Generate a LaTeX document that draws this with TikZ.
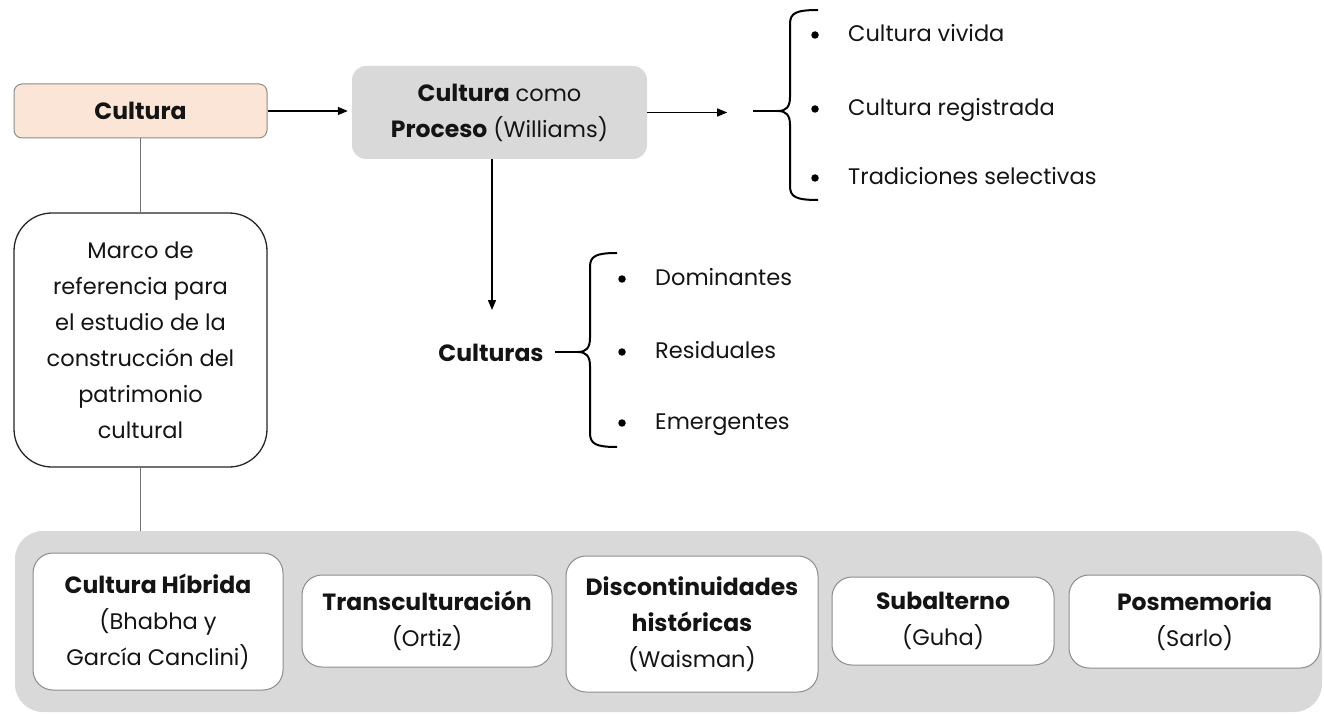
\documentclass[tikz,border=0pt]{standalone}
\usepackage{fontspec}
\setmainfont{Poppins}
\usetikzlibrary{arrows.meta}
\definecolor{peach}{HTML}{FBE5D6}
\definecolor{boxgray}{HTML}{D9D9D9}
\definecolor{edgegray}{HTML}{8C8C8C}
\definecolor{txt}{HTML}{141414}
\newcommand\hb[1]{{\fontsize{23.5}{36}\selectfont\bfseries #1}}
\newcommand\drawmybrace[5]{% #1 x, #2 top y, #3 mid y, #4 bottom y, #5 end x
  \draw[bracestyle] (#5,#2) .. controls ({#1+6},#2) and (#1,{#2+3}) .. (#1,{#2+14})
    -- (#1,{#3-14}) .. controls (#1,{#3-4}) and ({#1-4},#3) .. ({#1-12},#3)
    .. controls ({#1-4},#3) and (#1,{#3+4}) .. (#1,{#3+14})
    -- (#1,{#4-14}) .. controls (#1,{#4-3}) and ({#1+6},#4) .. (#5,#4);
}
\begin{document}
\begin{tikzpicture}[x=1pt,y=-1pt,
  every node/.style={font=\fontsize{22.5}{36}\selectfont, text=txt, align=center, inner sep=0pt},
  culturabox/.style={draw=edgegray, line width=1pt, fill=peach, rounded corners=8pt, minimum width=253pt, minimum height=54pt},
  procbox/.style={fill=boxgray, rounded corners=14pt, minimum width=295pt, minimum height=93pt},
  marcobox/.style={draw=black!85, line width=1.3pt, fill=white, rounded corners=38pt, minimum width=253pt, minimum height=254pt},
  bigbox/.style={fill=boxgray, rounded corners=28pt},
  conceptbox/.style={draw=edgegray, line width=1pt, fill=white, rounded corners=20pt},
  arrowline/.style={draw=black, line width=1.4pt, -{Triangle[length=10pt,width=8pt]}},
  greyline/.style={draw=black!55, line width=1pt},
  bracestyle/.style={draw=black, line width=2pt},
  dot/.style={circle, fill=black, minimum size=7.5pt, inner sep=0pt},
  itemtext/.style={anchor=west, text height=16pt, text depth=5pt},
]
\useasboundingbox (0,0) rectangle (1324,714);

% top boxes
\node[culturabox] (cultura) at (140.5,111) {\hb{Cultura}};
\node[procbox] (proceso) at (499.5,112.5) {\hb{Cultura} como\\\hb{Proceso} (Williams)};
\node[marcobox] (marco) at (140.5,340) {Marco de\\referencia para\\el estudio de la\\construcción del\\patrimonio\\cultural};

% bottom panel
\node[bigbox, minimum width=1307pt, minimum height=181pt] (big) at (668.5,621.5) {};
\node[conceptbox, minimum width=250pt, minimum height=137pt] (hibrida) at (158,621.5) {\hb{Cultura Híbrida}\\(Bhabha y\\García Canclini)};
\node[conceptbox, minimum width=250pt, minimum height=92pt] (transc) at (427,621) {\hb{Transculturación}\\(Ortiz)};
\node[conceptbox, minimum width=252pt, minimum height=136pt] (disc) at (692,624) {\hb{Discontinuidades}\\\hb{históricas}\\(Waisman)};
\node[conceptbox, minimum width=222pt, minimum height=88pt] (sub) at (943,621) {\hb{Subalterno}\\(Guha)};
\node[conceptbox, minimum width=251pt, minimum height=93pt] (pos) at (1194.5,621.5) {\hb{Posmemoria}\\(Sarlo)};

% connectors
\draw[greyline] (cultura.south) -- (marco.north);
\draw[greyline] (marco.south) -- (marco.south |- big.north);
\draw[arrowline, shorten >=4pt] (cultura.east) -- (proceso.west |- cultura.east);
\coordinate (a2end) at ([xshift=80pt]proceso.east);
\draw[arrowline] (proceso.east) -- (a2end);
\coordinate (dnend) at (492,310);
\draw[arrowline] (dnend |- proceso.south) -- (dnend);

% upper brace list
\coordinate (lineA) at (753,111);
\coordinate (tipA) at (778,111);
\draw[bracestyle] (lineA) -- (tipA);
\drawmybrace{790}{10}{111}{200}{818}
\node[dot] (d1) at (815,35) {};
\node[itemtext] (t1) at (848,36) {Cultura vivida};
\node[dot] (d2) at (815,109) {};
\node[itemtext] (t2) at (848,110) {Cultura registrada};
\node[dot] (d3) at (815,178) {};
\node[itemtext] (t3) at (848,179) {Tradiciones selectivas};

% lower brace list
\node (culturas) at (491,353) {\hb{Culturas}};
\coordinate (tipB) at (578,352);
\draw[bracestyle] ([xshift=11pt]culturas.east |- tipB) -- (tipB);
\drawmybrace{590}{253}{352}{447}{617}
\node[dot] (d4) at (622,279) {};
\node[itemtext] (t4) at (655,280) {Dominantes};
\node[dot] (d5) at (622,352) {};
\node[itemtext] (t5) at (655,353) {Residuales};
\node[dot] (d6) at (622,423) {};
\node[itemtext] (t6) at (655,424) {Emergentes};
\end{tikzpicture}
\end{document}
